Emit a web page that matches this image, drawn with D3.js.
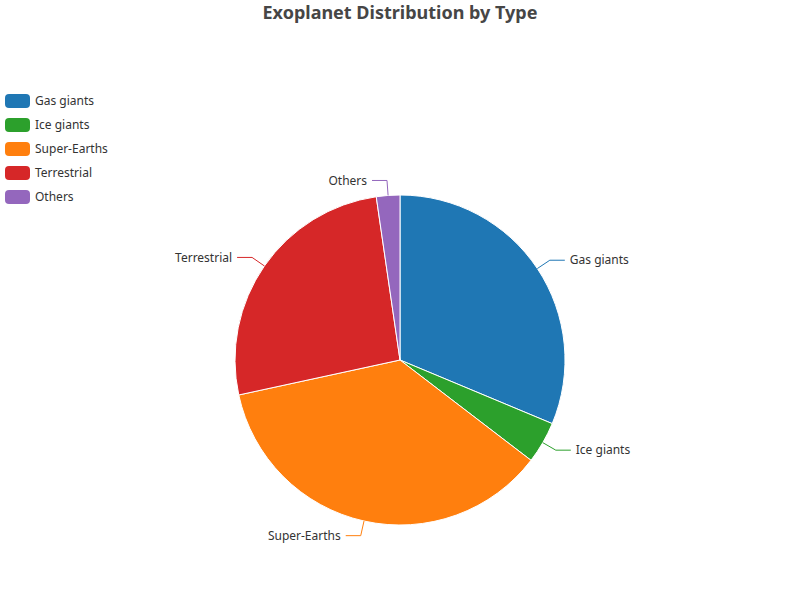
<!DOCTYPE html>
<html><head><meta charset="utf-8">
<script src="https://cdn.jsdelivr.net/npm/d3@7"></script>
<style>body{margin:0;background:#fff;font-family:"Microsoft YaHei","Noto Sans",sans-serif;}</style>
</head><body><svg id="c" width="800" height="600"></svg>
<script>
const categories = ["Gas giants", "Ice giants", "Super-Earths", "Terrestrial", "Others"];
const values = [31.3, 4.1, 36.2, 26.1, 2.3];
const colors = ["#1f77b4", "#2ca02c", "#ff7f0e", "#d62728", "#9467bd"];

const svg = d3.select("#c");
const cx = 400, cy = 360, r = 165;

svg.append("text").attr("x", 400).attr("y", 19).attr("text-anchor", "middle")
  .style("font-size", "18px").style("font-weight", "bold").style("fill", "#464646")
  .text("Exoplanet Distribution by Type");

const data = categories.map((c, i) => ({ name: c, value: values[i], color: colors[i] }));
const pie = d3.pie().value(d => d.value).sort(null);
const arc = d3.arc().innerRadius(0).outerRadius(r);
const g = svg.append("g").attr("transform", `translate(${cx},${cy})`);
const arcs = pie(data);

g.selectAll("path").data(arcs).enter().append("path")
  .attr("d", arc).attr("fill", d => d.data.color)
  .attr("stroke", "#fff").attr("stroke-width", 1);

arcs.forEach(a => {
  const m = (a.startAngle + a.endAngle) / 2;
  const sx = Math.sin(m), sy = -Math.cos(m);
  const p0 = [sx * r, sy * r], p1 = [sx * (r + 15), sy * (r + 15)];
  const dir = sx >= 0 ? 1 : -1;
  const p2 = [p1[0] + dir * 15, p1[1]];
  g.append("polyline").attr("points", [p0, p1, p2].map(p => p.join(",")).join(" "))
    .attr("fill", "none").attr("stroke", a.data.color).attr("stroke-width", 1);
  g.append("text").attr("x", p2[0] + dir * 5).attr("y", p2[1]).attr("dy", "0.35em")
    .attr("text-anchor", dir > 0 ? "start" : "end")
    .style("font-size", "12px").style("fill", "#333").text(a.data.name);
});

const leg = svg.append("g");
data.forEach((d, i) => {
  const y = 94 + i * 24;
  leg.append("rect").attr("x", 5).attr("y", y).attr("width", 25).attr("height", 14)
    .attr("rx", 4).attr("fill", d.color);
  leg.append("text").attr("x", 35).attr("y", y + 7).attr("dy", "0.35em")
    .style("font-size", "12px").style("fill", "#333").text(d.name);
});
</script></body></html>
